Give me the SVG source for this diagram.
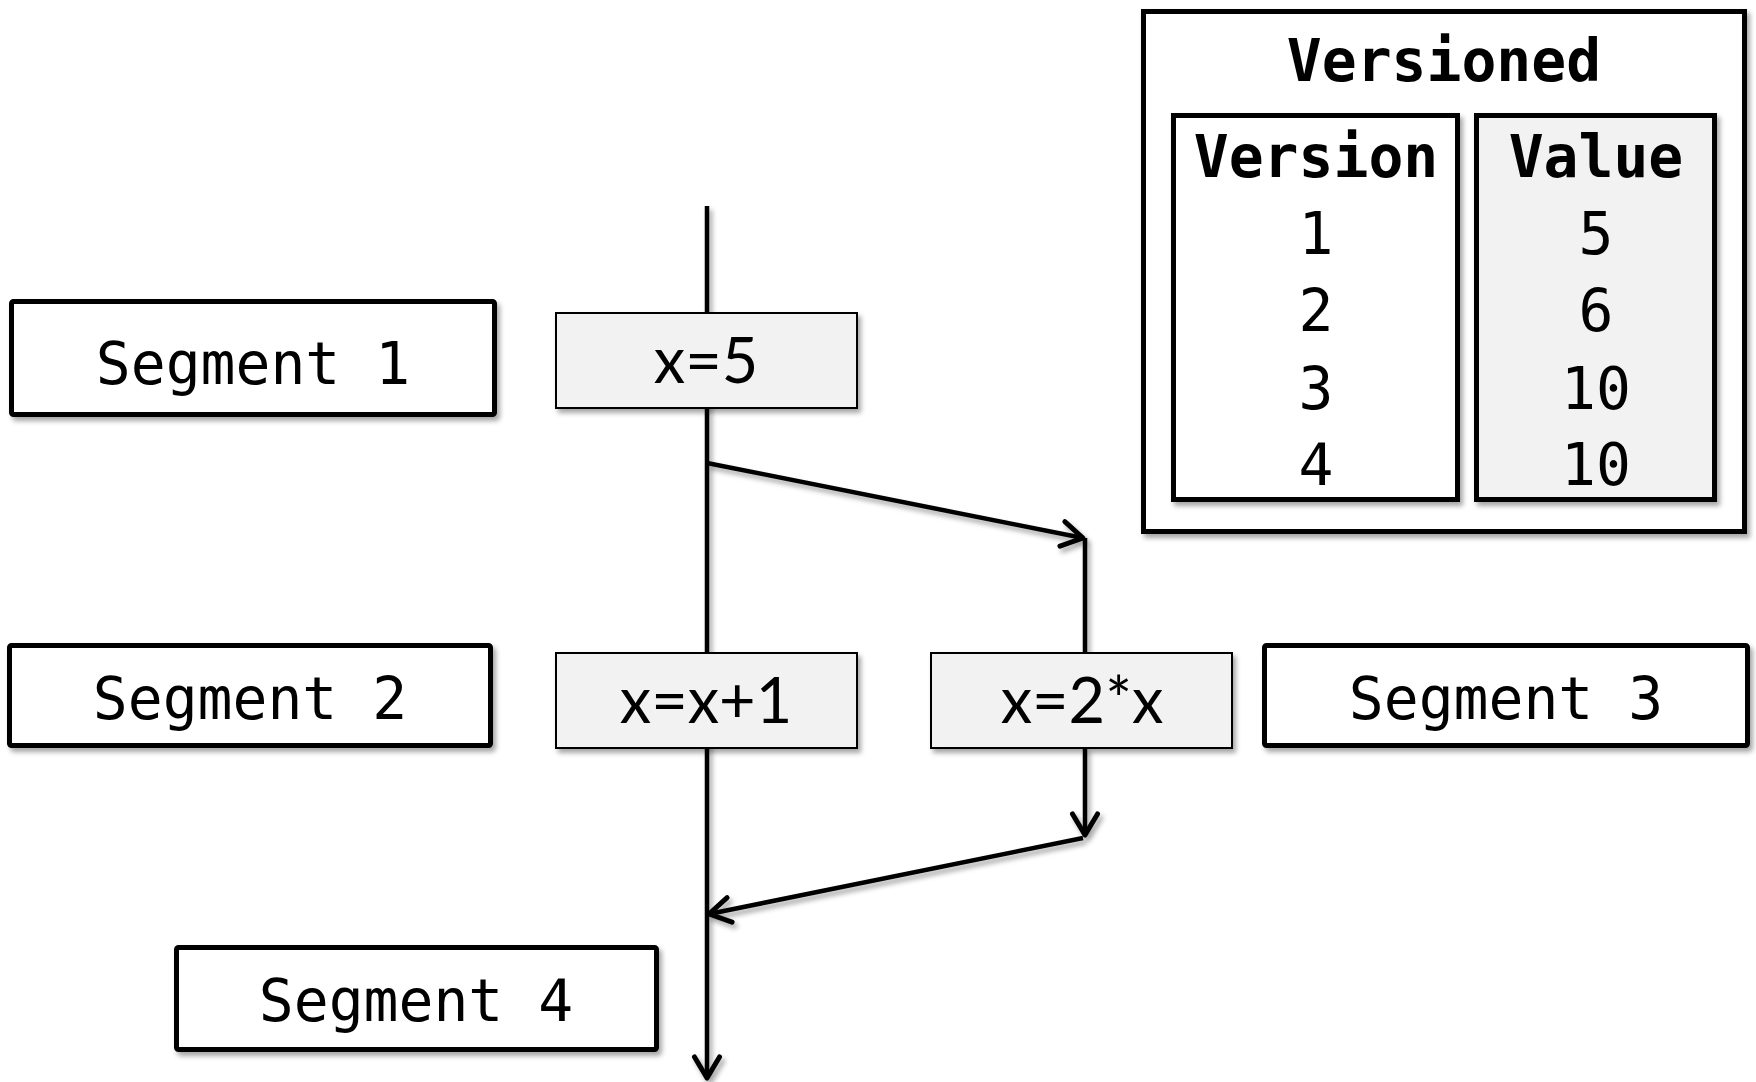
<svg xmlns="http://www.w3.org/2000/svg" width="1756" height="1082" viewBox="0 0 1756 1082">
  <defs>
    <filter id="shadow" x="-10%" y="-10%" width="130%" height="130%">
      <feDropShadow dx="3" dy="4" stdDeviation="2.5" flood-color="#000" flood-opacity="0.35"/>
    </filter>
    <!-- lines have zero-width boxes, so their shadow uses a canvas-wide region -->
    <filter id="wire-shadow" filterUnits="userSpaceOnUse" x="0" y="0" width="1756" height="1082">
      <feDropShadow dx="3" dy="4" stdDeviation="2.5" flood-color="#000" flood-opacity="0.35"/>
    </filter>
    <marker id="arrow" viewBox="-26 -17 30 34" refX="0" refY="0" markerWidth="30" markerHeight="34" markerUnits="userSpaceOnUse" orient="auto">
      <path d="M -21 -12.5 L 0 0 L -21 12.5" fill="none" stroke="#000" stroke-width="5" stroke-linecap="round" stroke-linejoin="round"/>
    </marker>
    <style>
      .seg { fill: #fff; stroke: #000; stroke-width: 5; filter: url(#shadow); }
      .code { fill: #f2f2f2; stroke: #000; stroke-width: 2; filter: url(#shadow); }
      .panel { fill: #fff; stroke: #000; stroke-width: 5; filter: url(#shadow); }
      .col-grey { fill: #f2f2f2; }
      .mono { font-family: "DejaVu Sans Mono", "Liberation Mono", monospace; font-size: 58px; fill: #000; text-anchor: middle; }
      .bold { font-weight: bold; }
      .calc { font-family: Lato, "Open Sans", "Liberation Sans", sans-serif; font-size: 63px; fill: #000; text-anchor: middle; }
      .wire { fill: none; stroke: #000; stroke-width: 4.5; filter: url(#wire-shadow); }
    </style>
  </defs>

  <rect width="1756" height="1082" fill="#fff"/>

  <!-- control-flow connectors -->
  <g id="connectors">
    <line class="wire" x1="707" y1="206" x2="707" y2="1078" marker-end="url(#arrow)"/>
    <line class="wire" x1="707" y1="463" x2="1083" y2="538" marker-end="url(#arrow)"/>
    <line class="wire" x1="1085" y1="538" x2="1085" y2="655"/>
    <line class="wire" x1="1085" y1="747" x2="1085" y2="835" marker-end="url(#arrow)"/>
    <line class="wire" x1="1083" y1="838" x2="709" y2="914" marker-end="url(#arrow)"/>
  </g>

  <!-- segment labels -->
  <g id="segment1">
    <rect class="seg" x="11.5" y="301.5" width="483" height="113" rx="2"/>
    <text class="mono" x="253" y="384">Segment 1</text>
  </g>
  <g id="segment2">
    <rect class="seg" x="9.5" y="645.5" width="481" height="100" rx="2"/>
    <text class="mono" x="250" y="719">Segment 2</text>
  </g>
  <g id="segment3">
    <rect class="seg" x="1264.5" y="645.5" width="483" height="100" rx="2"/>
    <text class="mono" x="1506" y="719">Segment 3</text>
  </g>
  <g id="segment4">
    <rect class="seg" x="176.5" y="947.5" width="480" height="102" rx="2"/>
    <text class="mono" x="416" y="1021">Segment 4</text>
  </g>

  <!-- statements -->
  <g id="assign5">
    <rect class="code" x="556" y="313" width="301" height="95"/>
    <text class="calc" x="706" y="383">x=5</text>
  </g>
  <g id="increment">
    <rect class="code" x="556" y="653" width="301" height="95"/>
    <text class="calc" x="706" y="723">x=x+1</text>
  </g>
  <g id="double">
    <rect class="code" x="931" y="653" width="301" height="95"/>
    <text class="calc" x="1082" y="723">x=2*x</text>
  </g>

  <!-- versioned value table -->
  <g id="versioned">
    <rect class="panel" x="1143.5" y="11.5" width="601" height="520"/>
    <text class="mono bold" x="1444" y="81">Versioned</text>
    <g id="version-column">
      <rect class="panel" x="1173.5" y="115.5" width="284" height="384"/>
      <text class="mono bold" x="1316" y="177">Version</text>
      <text class="mono" x="1316" y="254">1</text>
      <text class="mono" x="1316" y="331">2</text>
      <text class="mono" x="1316" y="409">3</text>
      <text class="mono" x="1316" y="485">4</text>
    </g>
    <g id="value-column">
      <rect class="panel col-grey" x="1476.5" y="115.5" width="238" height="384"/>
      <text class="mono bold" x="1596" y="177">Value</text>
      <text class="mono" x="1596" y="254">5</text>
      <text class="mono" x="1596" y="331">6</text>
      <text class="mono" x="1596" y="409">10</text>
      <text class="mono" x="1596" y="485">10</text>
    </g>
  </g>
</svg>
